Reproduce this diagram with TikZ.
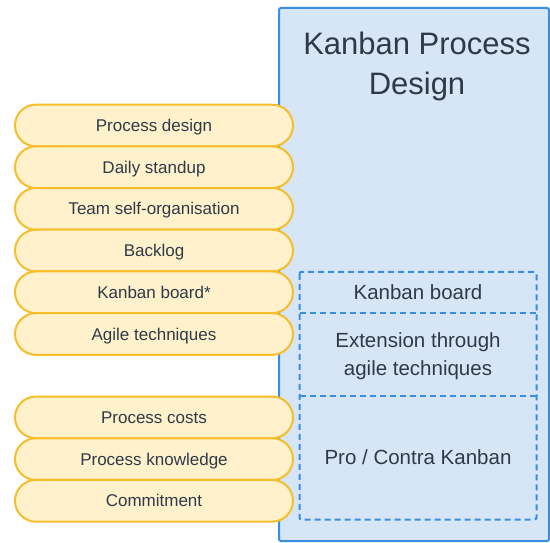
\documentclass[tikz,border=0pt]{standalone}
\usepackage{fontspec}
\setmainfont{Liberation Sans}
\usetikzlibrary{positioning,shapes.misc}

\definecolor{boxblue}{HTML}{D6E6F6}
\definecolor{lineblue}{HTML}{3A8EE2}
\definecolor{pillfill}{HTML}{FFF1CC}
\definecolor{pillline}{HTML}{F7BE2C}
\definecolor{ink}{HTML}{2E3B47}

\begin{document}
\begin{tikzpicture}[x=1pt,y=-1pt,
  topic/.style={rounded rectangle,draw=pillline,fill=pillfill,line width=2pt,outer sep=0pt,
    minimum width=278pt,minimum height=41.7pt,inner sep=0pt,text height=12.2pt,text depth=0pt,
    text=ink,font=\fontsize{17}{20}\selectfont},
  part/.style={outer sep=0pt,minimum width=237pt,inner sep=0pt,align=center,
    text height=14.7pt,text depth=0pt,text=ink,font=\fontsize{20.5}{28}\selectfont},
  partline/.style={draw=lineblue,dash pattern=on 6pt off 4pt,line width=2pt,rounded corners=2pt}]
  \useasboundingbox (0,0) rectangle (550,543);

  %design box
  \node (design) [draw=lineblue,fill=boxblue,line width=2pt,rounded corners=2pt,
    minimum width=270pt,minimum height=533pt] at (414,274.5) {};
  \node (title) [align=center,text=ink,font=\fontsize{31}{40}\selectfont] at (417,66) {Kanban Process\\Design};

  %topics, upper group
  \node (procdesign) [topic] at (154,125.5) {Process design};
  \node (standup) [topic,below=0pt of procdesign] {Daily standup};
  \node (selforg) [topic,below=0pt of standup] {Team self-organisation};
  \node (backlog) [topic,below=0pt of selforg] {Backlog};
  \node (board) [topic,below=0pt of backlog] {Kanban board*};
  \node (agile) [topic,below=0pt of board] {Agile techniques};

  %topics, lower group
  \node (costs) [topic,below=41.7pt of agile] {Process costs};
  \node (knowledge) [topic,below=0pt of costs] {Process knowledge};
  \node (commit) [topic,below=0pt of knowledge] {Commitment};

  %parts of the design
  \node (kboard) [part,minimum height=41pt] at (418,292.3) {Kanban board};
  \node (extension) [part,minimum height=82.7pt,text height=42.7pt,below=0pt of kboard] {Extension through\\agile techniques};
  \node (procon) [part,minimum height=124pt,below=0pt of extension] {Pro / Contra Kanban};
  \draw[partline] (kboard.north west) rectangle (procon.south east);
  \draw[partline] (kboard.south west) -- (kboard.south east);
  \draw[partline] (extension.south west) -- (extension.south east);
\end{tikzpicture}
\end{document}
